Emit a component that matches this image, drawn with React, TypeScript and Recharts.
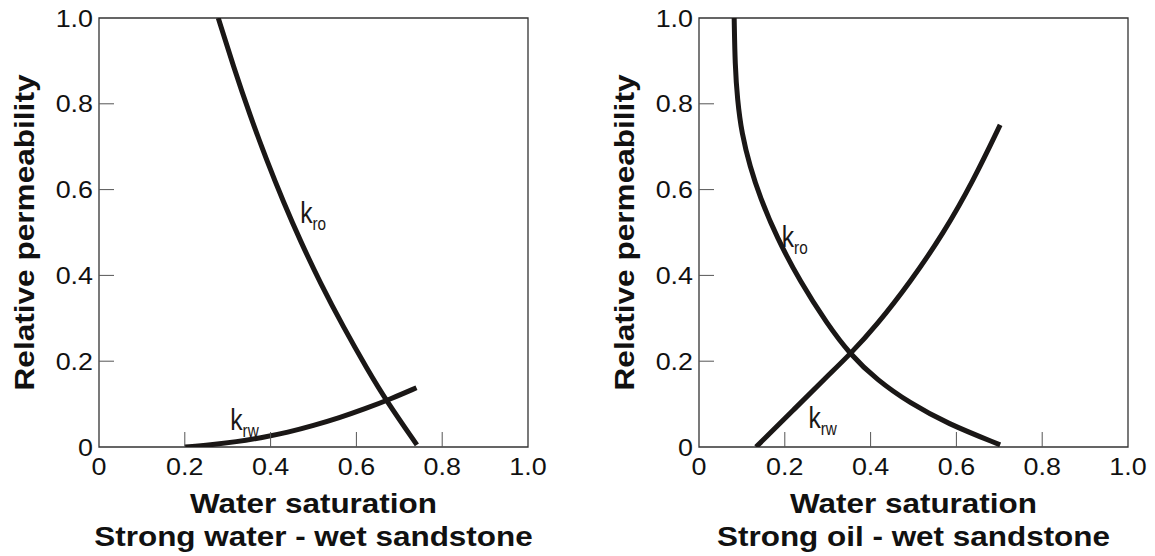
import React from "react";
import { LineChart, Line, XAxis, YAxis, ReferenceArea, ReferenceDot, Label } from "recharts";

const axisTicks = [0, 0.2, 0.4, 0.6, 0.8, 1.0];
const axisTickLabels = ["0", "0.2", "0.4", "0.6", "0.8", "1.0"];

// strong water - wet sandstone
const waterWetKroSw = [0.278, 0.313, 0.352, 0.391, 0.43, 0.47, 0.516, 0.57, 0.625, 0.671, 0.741];
const waterWetKro = [1.0, 0.888, 0.773, 0.668, 0.571, 0.479, 0.382, 0.279, 0.182, 0.106, 0.005];
const waterWetKrwSw = [0.2, 0.26, 0.32, 0.38, 0.44, 0.5, 0.56, 0.62, 0.68, 0.74];
const waterWetKrw = [0, 0.005, 0.012, 0.022, 0.034, 0.05, 0.068, 0.089, 0.112, 0.138];

// strong oil - wet sandstone
const oilWetKroSw = [0.082, 0.084, 0.0895, 0.0995, 0.119, 0.142, 0.181, 0.236, 0.298, 0.352, 0.415, 0.492, 0.578, 0.702];
const oilWetKro = [1.0, 0.89, 0.81, 0.731, 0.653, 0.583, 0.489, 0.385, 0.288, 0.216, 0.156, 0.102, 0.055, 0.005];
const oilWetKrwSw = [0.133, 0.142, 0.22, 0.298, 0.352, 0.415, 0.492, 0.57, 0.64, 0.702];
const oilWetKrw = [0, 0.009, 0.086, 0.164, 0.216, 0.285, 0.384, 0.498, 0.622, 0.751];

// where the k_ro / k_rw names sit, in (Sw, k)
const waterWetNotes = [
  { sw: 0.469, k: 0.522, sub: "ro" },
  { sw: 0.306, k: 0.04, sub: "rw" },
];
const oilWetNotes = [
  { sw: 0.193, k: 0.467, sub: "ro" },
  { sw: 0.255, k: 0.044, sub: "rw" },
];

const toPoints = (sw: number[], k: number[]) => sw.map((s, i) => ({ sw: s, k: k[i] }));

const FONT = "'Liberation Sans', Arial, Helvetica, sans-serif";
const INK = "#1a1716";

const XTick = (props: any) => {
  const { x, y, payload } = props;
  const v = payload.value;
  const label = axisTickLabels[axisTicks.indexOf(v)];
  const inner = v > 0.01 && v < 0.99;
  return (
    <g>
      {inner && <line x1={x} x2={x} y1={y} y2={y - 15} stroke="#555" strokeWidth={1} />}
      <text
        transform={`translate(${x},${y + 27.5}) scale(1.12,1)`}
        textAnchor="middle"
        fontFamily={FONT}
        fontSize={24}
        fill="#111"
      >
        {label}
      </text>
    </g>
  );
};

const YTick = (props: any) => {
  const { x, y, payload } = props;
  const v = payload.value;
  const label = axisTickLabels[axisTicks.indexOf(v)];
  const inner = v > 0.01 && v < 0.99;
  return (
    <g>
      {inner && <line x1={x} x2={x + 15} y1={y} y2={y} stroke="#555" strokeWidth={1} />}
      <text
        transform={`translate(${x - 6},${y + 8.5}) scale(1.12,1)`}
        textAnchor="end"
        fontFamily={FONT}
        fontSize={24}
        fill="#111"
      >
        {label}
      </text>
    </g>
  );
};

const curveName = (sub: string) => (props: any) => {
  const { viewBox } = props;
  return (
    <text
      transform={`translate(${viewBox.x},${viewBox.y}) scale(0.85,1)`}
      fontFamily={FONT}
      fontSize={29}
      fill={INK}
    >
      k
      <tspan fontSize={18} dy={7}>
        {sub}
      </tspan>
    </text>
  );
};

interface PanelProps {
  left: number;
  width: number;
  rightMargin: number;
  caption: string;
  kro: { sw: number; k: number }[];
  krw: { sw: number; k: number }[];
  notes: { sw: number; k: number; sub: string }[];
}

const Panel: React.FC<PanelProps> = ({ left, width, rightMargin, caption, kro, krw, notes }) => (
  <div style={{ position: "absolute", left, top: 0 }}>
    <LineChart width={width} height={556} margin={{ top: 18, right: rightMargin, bottom: 0, left: 0 }}>
      <XAxis
        dataKey="sw"
        type="number"
        domain={[0, 1]}
        ticks={axisTicks}
        interval={0}
        allowDataOverflow
        axisLine={false}
        tickLine={false}
        tickSize={0}
        tickMargin={0}
        height={109}
        tick={<XTick />}
      >
        <Label
          content={(p: any) => {
            const vb = p.viewBox;
            const cx = vb.x + vb.width / 2;
            return (
              <g fontFamily={FONT} fontWeight="bold" fontSize={27} fill="#111">
                <text transform={`translate(${cx},${vb.y + 66}) scale(1.165,1)`} textAnchor="middle">
                  Water saturation
                </text>
                <text transform={`translate(${cx},${vb.y + 99}) scale(1.165,1)`} textAnchor="middle">
                  {caption}
                </text>
              </g>
            );
          }}
        />
      </XAxis>
      <YAxis
        type="number"
        domain={[0, 1]}
        ticks={axisTicks}
        interval={0}
        allowDataOverflow
        axisLine={false}
        tickLine={false}
        tickSize={0}
        tickMargin={0}
        width={99}
        tick={<YTick />}
      >
        <Label
          content={(p: any) => {
            const vb = p.viewBox;
            return (
              <text
                transform={`translate(${vb.x + 34},${vb.y + vb.height / 2}) rotate(-90) scale(1.17,1)`}
                textAnchor="middle"
                fontFamily={FONT}
                fontWeight="bold"
                fontSize={27}
                fill="#111"
              >
                Relative permeability
              </text>
            );
          }}
        />
      </YAxis>
      <ReferenceArea x1={0} x2={1} y1={0} y2={1} fill="none" stroke="#333" strokeWidth={1.3} fillOpacity={0} strokeOpacity={1} />
      <Line
        data={kro}
        dataKey="k"
        type="basis"
        stroke={INK}
        strokeWidth={5}
        dot={false}
        activeDot={false}
        isAnimationActive={false}
      />
      <Line
        data={krw}
        dataKey="k"
        type="basis"
        stroke={INK}
        strokeWidth={5}
        dot={false}
        activeDot={false}
        isAnimationActive={false}
      />
      {notes.map((n) => (
        <ReferenceDot
          key={n.sub}
          x={n.sw}
          y={n.k}
          r={0}
          fill="none"
          stroke="none"
          label={{ content: curveName(n.sub) }}
        />
      ))}
    </LineChart>
  </div>
);

const App: React.FC = () => (
  <div style={{ position: "absolute", left: 0, top: 0, width: 1155, height: 556, background: "#fff" }}>
    <Panel
      left={0}
      width={577}
      rightMargin={49}
      caption="Strong water - wet sandstone"
      kro={toPoints(waterWetKroSw, waterWetKro)}
      krw={toPoints(waterWetKrwSw, waterWetKrw)}
      notes={waterWetNotes}
    />
    <Panel
      left={600}
      width={555}
      rightMargin={27}
      caption="Strong oil - wet sandstone"
      kro={toPoints(oilWetKroSw, oilWetKro)}
      krw={toPoints(oilWetKrwSw, oilWetKrw)}
      notes={oilWetNotes}
    />
  </div>
);

export default App;
